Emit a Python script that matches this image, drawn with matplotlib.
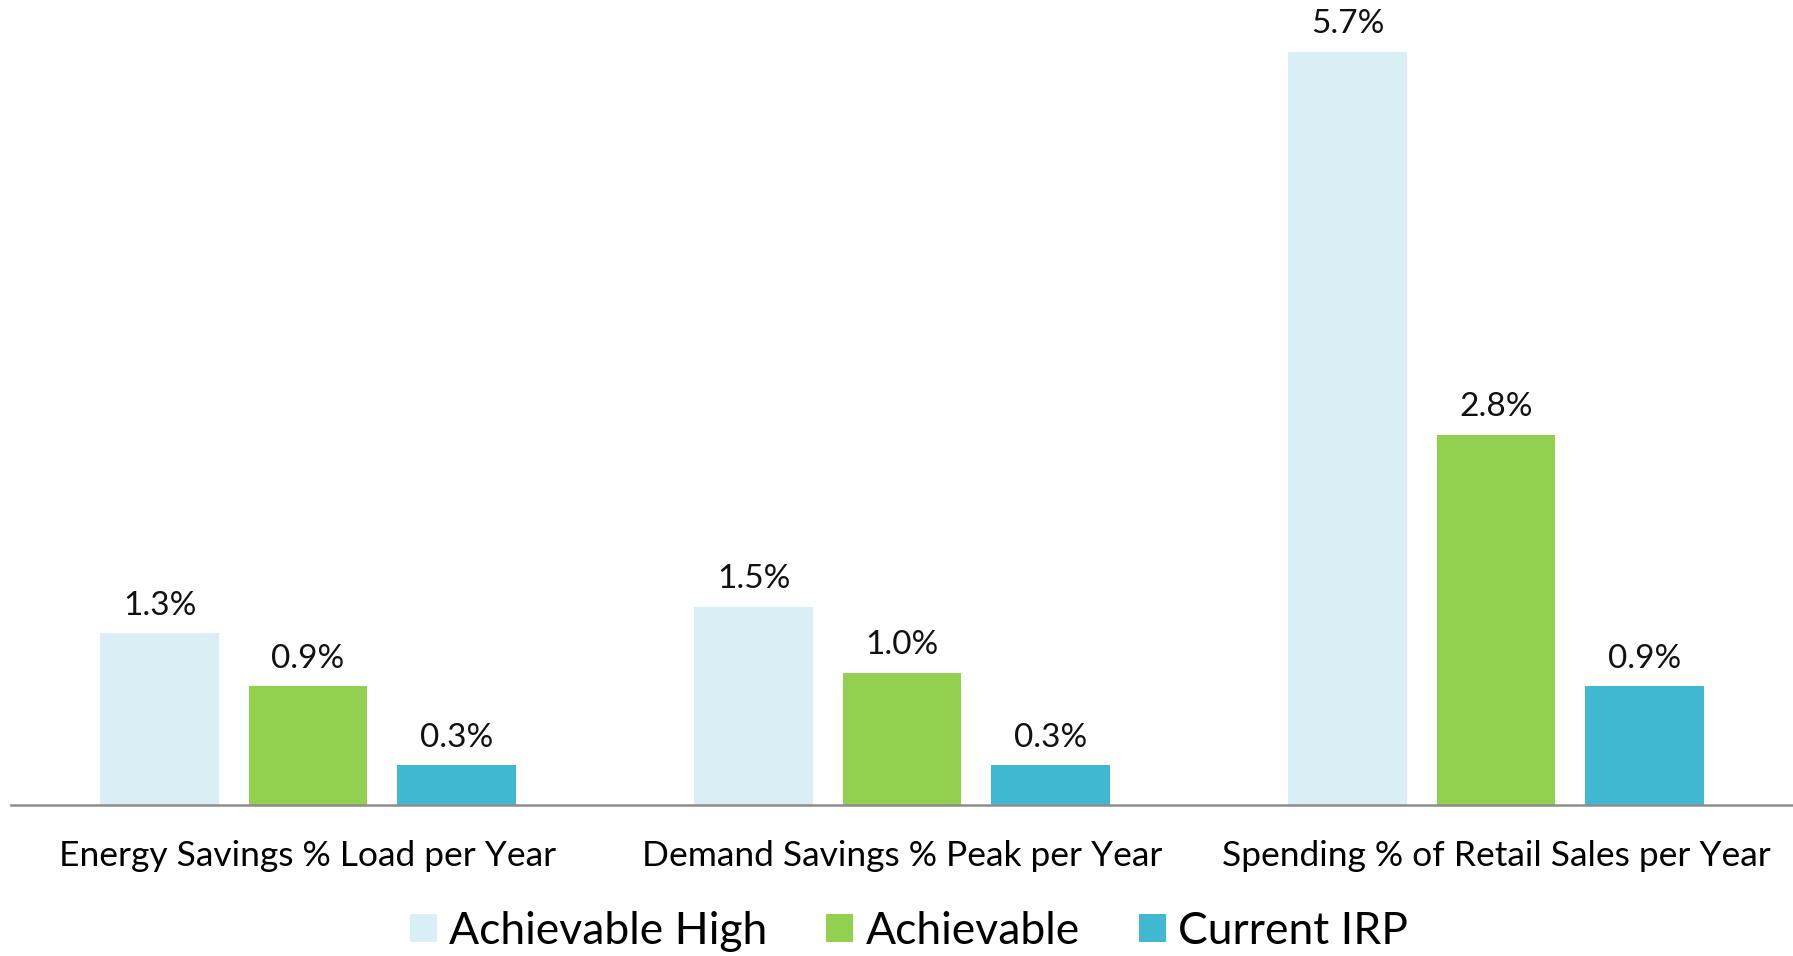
import numpy as np
import matplotlib.pyplot as plt

plt.rcParams['font.family'] = ['Lato', 'DejaVu Sans']

categories = ["Energy Savings % Load per Year",
              "Demand Savings % Peak per Year",
              "Spending % of Retail Sales per Year"]
series_names = ["Achievable High", "Achievable", "Current IRP"]
achievable_high = [1.3, 1.5, 5.7]
achievable = [0.9, 1.0, 2.8]
current_irp = [0.3, 0.3, 0.9]
colors = ["#DAEFF5", "#92D050", "#41B8D2"]

fig = plt.figure(figsize=(17.93, 9.56), dpi=100)
ax = fig.add_axes([11 / 1793, 151 / 956, 1 - 11 / 1793, 805 / 956])

x = np.arange(len(categories))
width = 0.2
offsets = [-0.25, 0.0, 0.25]
for vals, name, col, off in zip([achievable_high, achievable, current_irp],
                                series_names, colors, offsets):
    bars = ax.bar(x + off, vals, width, color=col, label=name)
    for b, v in zip(bars, vals):
        ax.annotate(f"{v:.1f}%", (b.get_x() + b.get_width() / 2, v),
                    xytext=(0, 9), textcoords="offset points",
                    ha="center", va="bottom", fontsize=24, color="#111111")

ax.set_xlim(-0.5, 2.5)
ax.set_ylim(0, 6.09)
ax.set_yticks([])
ax.set_xticks(x)
ax.set_xticklabels(categories, fontsize=25.5)
ax.tick_params(axis="x", length=0, pad=25)
for side in ["top", "right", "left"]:
    ax.spines[side].set_visible(False)
ax.spines["bottom"].set_color("#8c8c8c")
ax.spines["bottom"].set_linewidth(1.8)

fig.legend(loc="center", bbox_to_anchor=(0.507, 0.026), ncol=3, frameon=False,
           fontsize=32, handlelength=0.6, handleheight=0.6, handletextpad=0.28,
           columnspacing=1.33)

fig.savefig("out.png", dpi=100)
